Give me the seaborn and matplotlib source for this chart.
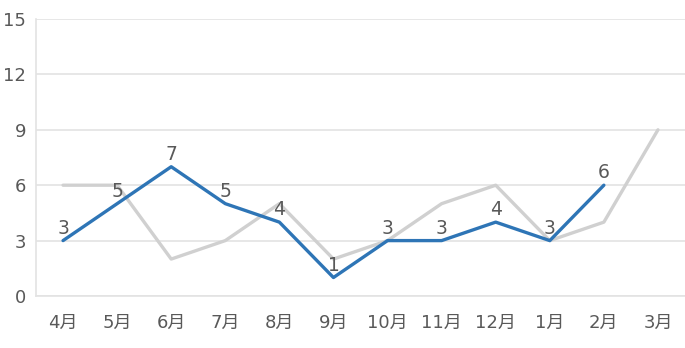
import matplotlib
matplotlib.use("Agg")
import matplotlib.pyplot as plt
import seaborn as sns
import pandas as pd
import numpy as np

months = ["4月", "5月", "6月", "7月", "8月", "9月", "10月", "11月", "12月", "1月", "2月", "3月"]
gray_vals = [6, 6, 2, 3, 5, 2, 3, 5, 6, 3, 4, 9]
blue_vals = [3, 5, 7, 5, 4, 1, 3, 3, 4, 3, 6, np.nan]
y_ticks = [0, 3, 6, 9, 12, 15]

sns.set_theme(style="white")
plt.rcParams['font.family'] = ['DejaVu Sans', 'Noto Sans CJK JP']

df = pd.DataFrame({"month": months, "gray": gray_vals, "blue": blue_vals})
df["x"] = np.arange(len(months))

fig = plt.figure(figsize=(6.85, 3.48), dpi=100)
ax = fig.add_axes([36/685, 52/348, 649/685, 277/348])

sns.lineplot(data=df, x="x", y="gray", ax=ax, color="#D0D0D0", linewidth=2.4, sort=False)
sns.lineplot(data=df, x="x", y="blue", ax=ax, color="#2E75B6", linewidth=2.4, sort=False)

for xi, v in zip(df["x"], df["blue"]):
    if not np.isnan(v):
        ax.annotate(f"{int(v)}", (xi, v), xytext=(0, 2), textcoords="offset points",
                    ha="center", va="bottom", fontsize=13.5, color="#595959")

ax.set_xlim(-0.5, len(months) - 0.5)
ax.set_ylim(0, 15)
ax.set_yticks(y_ticks)
ax.set_xticks(df["x"])
ax.set_xticklabels(months)
ax.set_xlabel("")
ax.set_ylabel("")
ax.tick_params(axis="both", labelsize=13, colors="#595959", length=0)
ax.tick_params(axis="x", pad=13)
ax.tick_params(axis="y", pad=7)
ax.grid(axis="y", color="#E3E3E3", linewidth=1.2)
ax.set_axisbelow(True)
for s in ["top", "right"]:
    ax.spines[s].set_visible(False)
ax.spines["left"].set_color("#E3E3E3")
ax.spines["bottom"].set_color("#E3E3E3")
ax.spines["left"].set_linewidth(1.2)
ax.spines["bottom"].set_linewidth(1.2)

fig.savefig("out.png", dpi=100)
